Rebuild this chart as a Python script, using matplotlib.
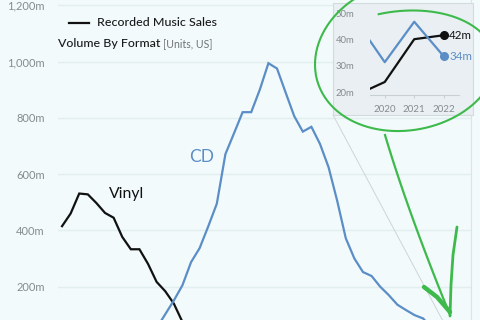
import matplotlib
matplotlib.use("Agg")
import matplotlib.pyplot as plt
import numpy as np
from matplotlib.patches import Rectangle
from matplotlib.lines import Line2D
from matplotlib.ticker import FuncFormatter

# ---------------- data ----------------
vinyl_years = list(range(1975, 2023))
vinyl_units = [415, 460, 531, 528, 497, 462, 445, 377, 333, 333,
               281, 217, 184, 140, 75, 39, 27, 17, 13, 13,
               14, 13, 10, 9, 8, 7, 6, 4, 4, 5,
               3, 2, 3, 3, 4, 5, 6, 7, 9, 13,
               17, 17, 19, 20, 18.8, 23.9, 40.1, 41.6]
cd_years = list(range(1983, 2023))
cd_units = [0.8, 5.8, 22.6, 53, 102, 151, 205, 287, 337, 414,
            495, 671, 745, 820, 820, 900, 994, 975, 890, 806,
            751, 768, 707, 624, 505, 372, 300, 252, 238, 200,
            170, 136, 117, 99, 87, 52, 47.5, 31.4, 46.7, 33.6]
main_yticks = [200, 400, 600, 800, 1000, 1200]
inset_yticks = [20, 30, 40, 50]
inset_xticks = [2020, 2021, 2022]
title = "Recorded Music Sales"
subtitle = "Volume By Format"
subtitle_units = "[Units, US]"

# ---------------- style ----------------
BG = "#f2fafb"
BLUE = "#5b8ec6"
BLACK = "#111111"
GRID = "#e2eef0"
TICK = "#858b8e"
GREEN = "#3dba4b"
FONT = ["Lato", "DejaVu Sans"]
plt.rcParams["font.family"] = FONT

W, H = 480, 320
fig = plt.figure(figsize=(4.8, 3.2), dpi=100, facecolor=BG)


def fx(x):
    return x / W


def fy(y):
    return 1 - y / H


# main axes
ax = fig.add_axes([fx(58), 0, (471 - 58) / W, 1])
ax.set_facecolor(BG)
ax.set_xlim(1974.53, 2022.56)
ax.set_ylim(81.7, 1218.5)
ax.plot(vinyl_years, vinyl_units, color=BLACK, lw=1.6, solid_joinstyle="miter", zorder=3)
ax.plot(cd_years, cd_units, color=BLUE, lw=1.6, solid_joinstyle="miter", zorder=3)
ax.set_yticks(main_yticks)
ax.yaxis.set_major_formatter(FuncFormatter(lambda v, p: f"{int(v):,}m"))
ax.tick_params(axis="y", length=0, pad=9.5, labelsize=8, labelcolor=TICK)
ax.set_xticks([])
ax.grid(axis="y", color=GRID, lw=1)
for s in ["top", "left", "bottom"]:
    ax.spines[s].set_visible(False)
ax.spines["right"].set_color("#dde4e6")
ax.spines["right"].set_linewidth(0.8)

ax.text(1991.2, 660, "CD", color=BLUE, fontsize=12.5,
        ha="center", va="center")
ax.text(1982.5, 530, "Vinyl", color=BLACK, fontsize=11.3,
        ha="center", va="center")

# title / legend
fig.add_artist(Line2D([fx(69), fx(89)], [fy(22.5), fy(22.5)], color=BLACK, lw=1.6,
                      transform=fig.transFigure))
fig.text(fx(97), fy(22.5), title, fontsize=8.9, color="#1a1a1a",
         fontweight="medium", ha="left", va="center")
fig.text(fx(58), fy(43.5), subtitle, fontsize=8.9, color="#1a1a1a",
         fontweight="medium", ha="left", va="center")
fig.text(fx(163), fy(43.5), subtitle_units, fontsize=7.6, color="#6f7477",
         ha="left", va="center")

# inset box
box = Rectangle((fx(333), fy(115)), (473 - 333) / W, (115 - 3) / H,
                transform=fig.transFigure, facecolor="#e9eff2",
                edgecolor="#d3dbde", lw=0.8, zorder=4)
fig.add_artist(box)
fig.add_artist(Line2D([fx(333), fx(452)], [fy(115), fy(338)], color="#cfd5d7",
                      lw=0.7, transform=fig.transFigure, zorder=2))

ins = fig.add_axes([fx(370), fy(95), (458.5 - 370) / W, (95 - 8) / H], zorder=5)
ins.patch.set_alpha(0)
ins.set_xlim(2019.5, 2022.5)
ins.set_ylim(18.98, 51.9)
ins.plot(vinyl_years, vinyl_units, color=BLACK, lw=1.6, clip_on=True)
ins.plot(cd_years, cd_units, color=BLUE, lw=1.6, clip_on=True)
ins.plot([vinyl_years[-1]], [vinyl_units[-1]], "o", color=BLACK, ms=5.5, clip_on=False)
ins.plot([cd_years[-1]], [cd_units[-1]], "o", color=BLUE, ms=5.5, clip_on=False)
ins.annotate(f"{round(vinyl_units[-1])}m", (vinyl_years[-1], vinyl_units[-1]),
             xytext=(4, 0), textcoords="offset points", color=BLACK,
             fontsize=8.3, va="center", ha="left", annotation_clip=False)
ins.annotate(f"{round(cd_units[-1])}m", (cd_years[-1], cd_units[-1]),
             xytext=(4, 0), textcoords="offset points", color=BLUE,
             fontsize=8.3, va="center", ha="left", annotation_clip=False)
ins.set_yticks(inset_yticks)
ins.yaxis.set_major_formatter(FuncFormatter(lambda v, p: f"{int(v)}m"))
ins.set_xticks(inset_xticks)
ins.set_xticklabels([str(y) for y in inset_xticks])
ins.tick_params(axis="y", length=0, pad=11, labelsize=6.8, labelcolor=TICK)
ins.tick_params(axis="x", length=2.5, color="#c9d0d3", pad=5, labelsize=7,
                labelcolor=TICK)
for s in ["top", "left", "right"]:
    ins.spines[s].set_visible(False)
ins.spines["bottom"].set_color("#c9d0d3")
ins.spines["bottom"].set_linewidth(0.8)

# hand-drawn green annotations (decoration)
tt = np.radians(np.linspace(-107, 238, 300))
frac = (tt - tt[0]) / (tt[-1] - tt[0])
rx = 90 + 0 * frac
ry = 50 + 30 * frac
cy = 62 + 3 * frac
gx = 405 + rx * np.cos(tt)
gy = cy + ry * np.sin(tt)
fig.add_artist(Line2D(gx / W, 1 - gy / H, color=GREEN, lw=1.5,
                      transform=fig.transFigure, zorder=6))

s = np.linspace(0, 1, 100)
p0, p1, p2 = np.array([385, 135]), np.array([408, 212]), np.array([450, 315])
bez = ((1 - s) ** 2)[:, None] * p0 + (2 * (1 - s) * s)[:, None] * p1 + (s ** 2)[:, None] * p2
fig.add_artist(Line2D(bez[:, 0] / W, 1 - bez[:, 1] / H, color=GREEN, lw=1.6,
                      transform=fig.transFigure, zorder=6))
fig.add_artist(Line2D([fx(424), fx(437), fx(450)], [fy(287), fy(297), fy(312)],
                      color=GREEN, lw=3.2, solid_capstyle="round",
                      transform=fig.transFigure, zorder=6))
fig.add_artist(Line2D([fx(457), fx(453), fx(451), fx(450)],
                      [fy(227), fy(255), fy(285), fy(316)],
                      color=GREEN, lw=2.0, solid_capstyle="round",
                      transform=fig.transFigure, zorder=6))

fig.savefig("out.png", dpi=100, facecolor=BG)
